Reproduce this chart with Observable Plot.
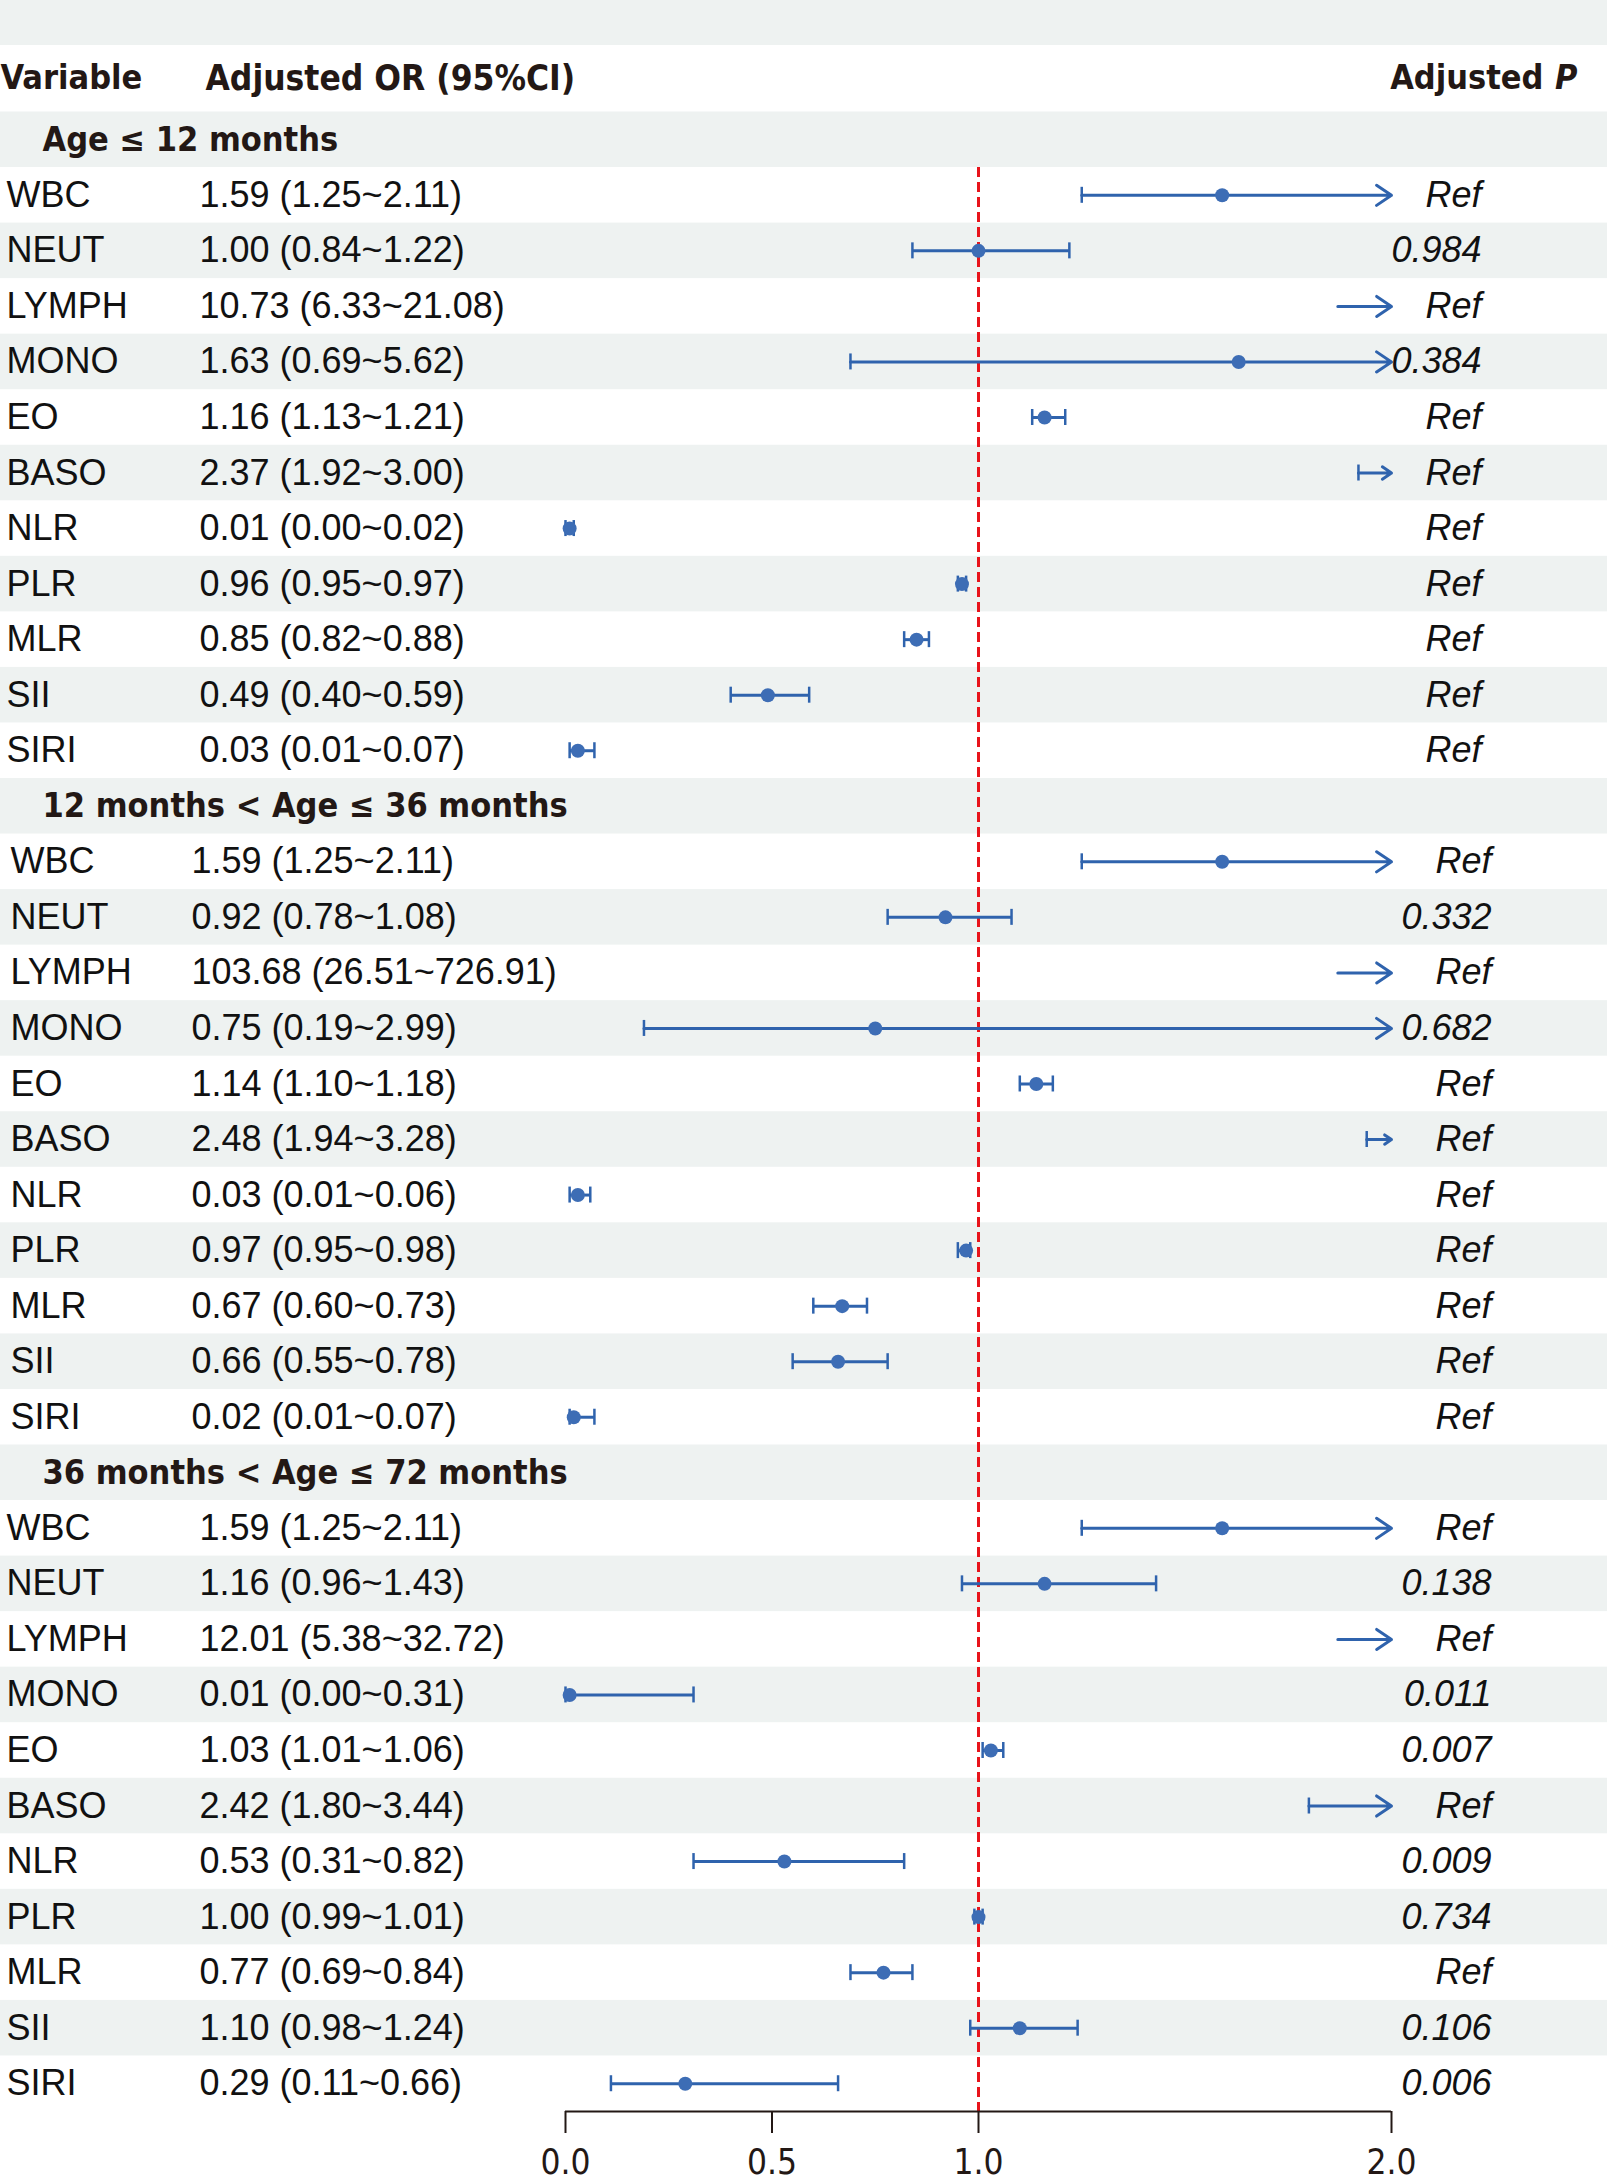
<!DOCTYPE html>
<html>
<head>
<meta charset="utf-8">
<script src="https://cdn.jsdelivr.net/npm/d3@7"></script>
<script src="https://cdn.jsdelivr.net/npm/@observablehq/plot@0.6"></script>
<style>
  body { margin: 0; background: #fff; overflow: hidden; }
  #topband { width: 1607px; height: 45px; background: #eef2f1; }
  #chart svg { display: block; }
</style>
</head>
<body>
<div id="topband"></div>
<div id="chart"></div>
<script>
// ---------------- data ----------------
const groupLabels = ["Age ≤ 12 months", "12 months < Age ≤ 36 months", "36 months < Age ≤ 72 months"];
const variables = ["WBC", "NEUT", "LYMPH", "MONO", "EO", "BASO", "NLR", "PLR", "MLR", "SII", "SIRI"];

const orAge12 = [1.59, 1.00, 10.73, 1.63, 1.16, 2.37, 0.01, 0.96, 0.85, 0.49, 0.03];
const loAge12 = [1.25, 0.84, 6.33, 0.69, 1.13, 1.92, 0.00, 0.95, 0.82, 0.40, 0.01];
const hiAge12 = [2.11, 1.22, 21.08, 5.62, 1.21, 3.00, 0.02, 0.97, 0.88, 0.59, 0.07];
const pAge12  = ["Ref", "0.984", "Ref", "0.384", "Ref", "Ref", "Ref", "Ref", "Ref", "Ref", "Ref"];

const orAge36 = [1.59, 0.92, 103.68, 0.75, 1.14, 2.48, 0.03, 0.97, 0.67, 0.66, 0.02];
const loAge36 = [1.25, 0.78, 26.51, 0.19, 1.10, 1.94, 0.01, 0.95, 0.60, 0.55, 0.01];
const hiAge36 = [2.11, 1.08, 726.91, 2.99, 1.18, 3.28, 0.06, 0.98, 0.73, 0.78, 0.07];
const pAge36  = ["Ref", "0.332", "Ref", "0.682", "Ref", "Ref", "Ref", "Ref", "Ref", "Ref", "Ref"];

const orAge72 = [1.59, 1.16, 12.01, 0.01, 1.03, 2.42, 0.53, 1.00, 0.77, 1.10, 0.29];
const loAge72 = [1.25, 0.96, 5.38, 0.00, 1.01, 1.80, 0.31, 0.99, 0.69, 0.98, 0.11];
const hiAge72 = [2.11, 1.43, 32.72, 0.31, 1.06, 3.44, 0.82, 1.01, 0.84, 1.24, 0.66];
const pAge72  = ["Ref", "0.138", "Ref", "0.011", "0.007", "Ref", "0.009", "0.734", "Ref", "0.106", "0.006"];

const xTicks = [0, 0.5, 1.0, 2.0];
const refValue = 1;

// ---------------- table ----------------
const groupData = [
  {label: groupLabels[0], or: orAge12, lo: loAge12, hi: hiAge12, p: pAge12},
  {label: groupLabels[1], or: orAge36, lo: loAge36, hi: hiAge36, p: pAge36},
  {label: groupLabels[2], or: orAge72, lo: loAge72, hi: hiAge72, p: pAge72}
];
const rows = [], headers = [];
groupData.forEach((g, gi) => {
  const base = 1 + gi * (variables.length + 1);
  headers.push({group: gi, label: g.label, row: base});
  variables.forEach((v, i) => rows.push({
    group: gi, row: base + 1 + i, name: v,
    or: g.or[i], lo: g.lo[i], hi: g.hi[i], p: g.p[i]
  }));
});
const lastRow = d3.max(rows, d => d.row);
const bandRows = d3.range(1, lastRow + 1).filter(k => k % 2 === 1);
const xMax = xTicks[xTicks.length - 1];
const fmt = d3.format(".2f");
const ciText = d => `${fmt(d.or)} (${fmt(d.lo)}~${fmt(d.hi)})`;

// ---------------- style ----------------
const BAND = "#eef2f1";
const LINE = "#2f63ad";
const DOT = "#3d6db5";
const INK = "#231815";
const rowFont = {fontFamily: "'Liberation Sans', Arial, sans-serif", fontSize: 36, fill: "#111"};
const headFont = {fontFamily: "'DejaVu Sans Condensed', 'DejaVu Sans', sans-serif", fontSize: 34, fontWeight: "bold", fill: INK};
const labelDx = [6, 10, 6];
const valueDx = [199, 191, 199];
const pDx = [-126, -116, -116];

const W = 1619, H = 2138;

const textMarks = groupData.flatMap((g, gi) => {
  const sub = rows.filter(d => d.group === gi);
  return [
    Plot.text(sub, {y: "row", text: "name", frameAnchor: "left", dx: labelDx[gi], textAnchor: "start", lineAnchor: "middle", ...rowFont}),
    Plot.text(sub, {y: "row", text: ciText, frameAnchor: "left", dx: valueDx[gi], textAnchor: "start", lineAnchor: "middle", ...rowFont}),
    Plot.text(sub, {y: "row", text: "p", frameAnchor: "right", dx: pDx[gi], textAnchor: "end", lineAnchor: "middle", fontStyle: "italic", ...rowFont})
  ];
});

const chart = Plot.plot({
  width: W,
  height: H,
  marginLeft: 0,
  marginRight: 12,
  marginTop: 0,
  marginBottom: 72,
  style: {background: "#fff", overflow: "visible"},
  x: {domain: [0, xMax], range: [565, 1391], axis: null},
  y: {domain: [0.5, lastRow + 0.5], range: [66.5, 2066], axis: null},
  marks: [
    Plot.rect(bandRows, {y1: k => k - 0.5, y2: k => k + 0.5, fill: BAND}),
    Plot.ruleX([refValue], {y1: 1.5, y2: lastRow + 0.5, stroke: "#e8141b", strokeWidth: 3, strokeDasharray: "10,5"}),
    // CI lines within range
    Plot.ruleY(rows.filter(d => d.hi <= xMax), {x1: "lo", x2: "hi", y: "row", stroke: LINE, strokeWidth: 3}),
    // CI lines running off scale
    Plot.arrow(rows.filter(d => d.hi > xMax), {
      x1: d => d.lo > xMax ? xMax - 0.13 : d.lo, x2: xMax, y1: "row", y2: "row",
      stroke: LINE, strokeWidth: 3, headAngle: 68, headLength: 9
    }),
    // caps
    Plot.ruleX(rows.filter(d => d.lo <= xMax), {x: "lo", y1: "row", y2: "row", insetTop: -8, insetBottom: -8, stroke: LINE, strokeWidth: 2.5}),
    Plot.ruleX(rows.filter(d => d.hi <= xMax), {x: "hi", y1: "row", y2: "row", insetTop: -8, insetBottom: -8, stroke: LINE, strokeWidth: 2.5}),
    Plot.dot(rows.filter(d => d.or <= xMax), {x: "or", y: "row", r: 7, fill: DOT}),
    // axis
    Plot.ruleY([lastRow + 0.5], {x1: xTicks[0], x2: xMax, stroke: INK, strokeWidth: 2}),
    Plot.axisX({
      anchor: "bottom", ticks: xTicks, tickFormat: d3.format(".1f"), tickSize: 22, tickPadding: 16,
      stroke: INK, strokeWidth: 2, color: INK, label: null,
      fontFamily: "'Liberation Sans Narrow', 'DejaVu Sans Condensed', sans-serif", fontSize: 35
    }),
    // header
    Plot.text(["Variable"], {text: d => d, frameAnchor: "top-left", dx: 0, dy: 33, textAnchor: "start", lineAnchor: "middle", ...headFont}),
    Plot.text(["Adjusted OR (95%CI)"], {text: d => d, frameAnchor: "top-left", dx: 205, dy: 33, textAnchor: "start", lineAnchor: "middle", ...headFont, fontSize: 35}),
    Plot.text(["Adjusted"], {text: d => d, frameAnchor: "top-right", dx: -64, dy: 33, textAnchor: "end", lineAnchor: "middle", ...headFont}),
    Plot.text(["P"], {text: d => d, frameAnchor: "top-right", dx: -30, dy: 33, textAnchor: "end", lineAnchor: "middle", fontStyle: "italic", ...headFont}),
    // group headers
    Plot.text(headers, {y: "row", text: "label", frameAnchor: "left", dx: 42, textAnchor: "start", lineAnchor: "middle", ...headFont}),
    ...textMarks
  ]
});
document.getElementById("chart").appendChild(chart);
</script>
</body>
</html>
